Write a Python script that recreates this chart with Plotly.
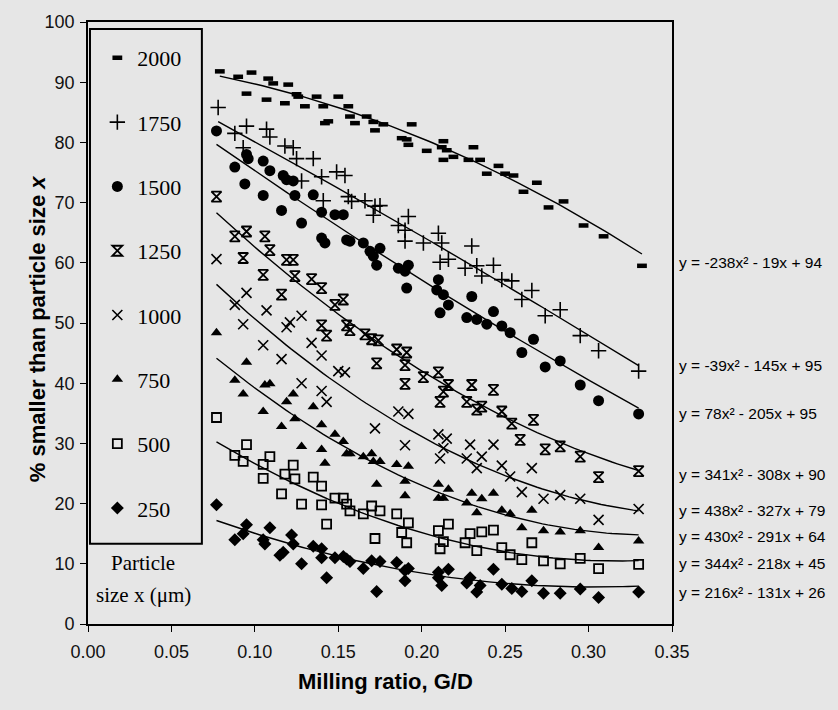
import numpy as np
import plotly.graph_objects as go

# ---------------- data ----------------
sizes = ["2000", "1750", "1500", "1250", "1000", "750", "500", "250"]

x_2000 = [0.079, 0.090, 0.098, 0.095, 0.108, 0.111, 0.107, 0.120, 0.118, 0.125, 0.126, 0.130, 0.137, 0.141,
          0.142, 0.144, 0.150, 0.156, 0.157, 0.160, 0.167, 0.171, 0.172, 0.177, 0.188, 0.191, 0.192, 0.194,
          0.203, 0.212, 0.213, 0.213, 0.215, 0.219, 0.228, 0.231, 0.235, 0.239, 0.246, 0.250, 0.255, 0.261,
          0.269, 0.276, 0.285, 0.297, 0.309, 0.332]
y_2000 = [91.8, 90.9, 91.6, 88.1, 90.6, 89.8, 87.1, 89.6, 86.5, 88.0, 87.6, 86.0, 87.6, 86.0,
          83.2, 83.5, 87.6, 86.0, 84.3, 83.2, 84.3, 83.4, 82.0, 83.0, 80.7, 80.5, 79.6, 83.0,
          78.6, 79.2, 80.2, 77.1, 78.7, 77.6, 77.1, 79.2, 77.1, 74.8, 76.1, 74.8, 74.5, 71.8,
          73.3, 69.2, 70.2, 66.2, 64.4, 59.5]

x_1750 = [0.078, 0.088, 0.093, 0.095, 0.107, 0.109, 0.118, 0.123, 0.125, 0.128, 0.135, 0.140, 0.141, 0.149,
          0.154, 0.156, 0.158, 0.166, 0.171, 0.172, 0.175, 0.186, 0.190, 0.190, 0.192, 0.201, 0.210, 0.211,
          0.212, 0.216, 0.226, 0.230, 0.233, 0.236, 0.243, 0.248, 0.254, 0.260, 0.266, 0.274, 0.283, 0.295,
          0.306, 0.330]
y_1750 = [85.8, 81.5, 79.1, 82.7, 82.2, 80.9, 79.4, 79.1, 77.3, 73.6, 77.3, 74.3, 70.3, 75.1,
          74.5, 71.0, 70.2, 70.3, 67.9, 69.4, 69.5, 66.2, 65.4, 63.6, 67.7, 63.3, 64.9, 60.1,
          63.3, 60.6, 59.1, 62.8, 59.5, 57.8, 59.6, 57.2, 57.0, 53.9, 55.4, 51.2, 52.2, 47.9,
          45.4, 42.0]

x_1500 = [0.077, 0.088, 0.094, 0.095, 0.096, 0.105, 0.105, 0.109, 0.116, 0.117, 0.119, 0.123, 0.124, 0.128,
          0.135, 0.140, 0.140, 0.142, 0.148, 0.153, 0.155, 0.157, 0.165, 0.169, 0.171, 0.173, 0.175, 0.186,
          0.190, 0.191, 0.192, 0.209, 0.210, 0.211, 0.213, 0.216, 0.227, 0.230, 0.233, 0.239, 0.243, 0.248,
          0.253, 0.260, 0.267, 0.274, 0.283, 0.295, 0.306, 0.330]
y_1500 = [81.9, 75.9, 73.1, 78.0, 77.3, 71.2, 76.9, 75.3, 68.7, 74.5, 73.8, 73.6, 71.2, 66.6,
          71.3, 68.4, 64.1, 63.3, 68.0, 68.0, 63.8, 63.6, 63.3, 61.9, 61.1, 59.6, 62.4, 59.1,
          58.6, 55.8, 59.6, 55.5, 57.2, 51.7, 54.7, 53.0, 50.9, 54.4, 50.6, 49.8, 51.9, 49.5,
          48.4, 45.1, 47.3, 42.7, 43.7, 39.7, 37.1, 34.9]

x_1250 = [0.077, 0.088, 0.093, 0.095, 0.105, 0.106, 0.109, 0.116, 0.119, 0.123, 0.124, 0.134, 0.140, 0.140,
          0.143, 0.148, 0.153, 0.155, 0.157, 0.166, 0.170, 0.173, 0.174, 0.185, 0.190, 0.190, 0.191, 0.201,
          0.210, 0.211, 0.213, 0.216, 0.227, 0.230, 0.233, 0.236, 0.243, 0.248, 0.254, 0.259, 0.267, 0.274,
          0.283, 0.295, 0.306, 0.330]
y_1250 = [71.0, 64.4, 60.8, 65.2, 58.0, 64.4, 62.1, 54.7, 60.5, 60.5, 57.8, 57.3, 55.8, 49.6,
          47.9, 53.0, 53.9, 49.6, 48.8, 48.1, 47.3, 43.3, 47.1, 45.6, 43.0, 39.9, 45.1, 41.0,
          41.8, 36.9, 38.6, 39.7, 36.9, 39.7, 35.6, 36.1, 38.9, 35.3, 33.3, 30.6, 33.9, 29.0,
          29.5, 27.8, 24.4, 25.4]

x_1000 = [0.077, 0.088, 0.093, 0.095, 0.105, 0.107, 0.116, 0.119, 0.121, 0.128, 0.128, 0.134, 0.140, 0.140,
          0.143, 0.150, 0.154, 0.172, 0.186, 0.190, 0.192, 0.210, 0.211, 0.213, 0.215, 0.227, 0.229, 0.233,
          0.236, 0.243, 0.248, 0.253, 0.260, 0.266, 0.273, 0.283, 0.295, 0.306, 0.330]
y_1000 = [60.6, 53.0, 49.8, 55.0, 46.3, 52.1, 44.0, 49.3, 50.1, 51.2, 40.0, 46.7, 44.6, 38.7,
          36.9, 42.0, 41.8, 32.5, 35.3, 29.7, 34.9, 31.5, 27.5, 29.2, 30.8, 27.5, 29.8, 25.9,
          27.8, 29.8, 26.3, 24.5, 21.9, 25.9, 20.8, 21.4, 20.8, 17.3, 19.1]

x_750 = [0.077, 0.088, 0.093, 0.095, 0.105, 0.106, 0.109, 0.116, 0.119, 0.123, 0.124, 0.128, 0.135, 0.140,
         0.140, 0.142, 0.148, 0.153, 0.155, 0.157, 0.165, 0.170, 0.171, 0.173, 0.175, 0.185, 0.190, 0.190,
         0.192, 0.210, 0.210, 0.213, 0.216, 0.227, 0.230, 0.233, 0.236, 0.243, 0.248, 0.253, 0.260, 0.266,
         0.273, 0.283, 0.295, 0.306, 0.330]
y_750 = [48.4, 40.5, 38.2, 43.5, 35.3, 39.7, 39.9, 32.8, 36.9, 38.2, 34.1, 29.5, 36.1, 29.0,
         33.1, 26.7, 31.5, 30.3, 28.3, 28.3, 27.8, 28.3, 27.0, 23.2, 27.0, 26.5, 23.7, 21.3,
         26.2, 23.2, 20.9, 20.9, 22.4, 20.1, 21.7, 18.5, 20.8, 21.7, 18.9, 18.3, 16.0, 18.9,
         15.5, 15.3, 15.5, 12.7, 13.8]

x_500 = [0.077, 0.088, 0.093, 0.095, 0.105, 0.105, 0.109, 0.116, 0.118, 0.123, 0.124, 0.128, 0.135, 0.140,
         0.140, 0.143, 0.148, 0.153, 0.155, 0.157, 0.165, 0.170, 0.172, 0.175, 0.185, 0.188, 0.191, 0.192,
         0.210, 0.211, 0.213, 0.216, 0.226, 0.229, 0.233, 0.236, 0.243, 0.248, 0.253, 0.260, 0.266, 0.273,
         0.283, 0.295, 0.306, 0.330]
y_500 = [34.3, 28.0, 27.0, 29.8, 24.2, 26.5, 27.8, 21.6, 24.9, 26.4, 24.1, 19.9, 24.4, 22.9,
         19.8, 16.6, 20.9, 20.9, 19.9, 18.8, 18.3, 19.6, 14.2, 18.8, 18.3, 15.2, 13.5, 16.8,
         15.5, 12.5, 13.7, 16.6, 13.5, 15.0, 12.2, 15.3, 15.6, 12.7, 11.5, 10.7, 13.5, 10.5,
         10.0, 10.9, 9.2, 9.9]

x_250 = [0.077, 0.088, 0.093, 0.095, 0.105, 0.106, 0.109, 0.115, 0.117, 0.122, 0.123, 0.128, 0.135, 0.140,
         0.140, 0.143, 0.148, 0.153, 0.155, 0.157, 0.165, 0.170, 0.173, 0.175, 0.185, 0.190, 0.190, 0.192,
         0.210, 0.210, 0.212, 0.216, 0.227, 0.229, 0.233, 0.235, 0.243, 0.248, 0.254, 0.260, 0.266, 0.273,
         0.283, 0.295, 0.306, 0.330]
y_250 = [19.8, 14.0, 15.0, 16.5, 14.0, 13.3, 16.0, 11.4, 11.9, 14.8, 13.3, 10.0, 12.9, 12.5,
         11.0, 7.7, 11.0, 11.2, 10.8, 10.4, 9.2, 10.5, 5.4, 10.4, 10.2, 8.9, 7.2, 9.2,
         8.6, 7.7, 6.4, 9.1, 6.8, 7.7, 5.3, 6.4, 9.1, 6.6, 5.9, 5.4, 7.2, 5.1,
         5.1, 5.8, 4.4, 5.3]

# quadratic trend-line coefficients (y = a x^2 + b x + c), as printed on the chart
fit_a = [-238, -39, 78, 341, 438, 430, 344, 216]
fit_b = [-19, -145, -205, -308, -327, -291, -218, -131]
fit_c = [94, 95, 95, 90, 79, 64, 45, 26]
eq_labels = ["y = -238x\u00b2 - 19x + 94", "y = -39x\u00b2 - 145x + 95", "y = 78x\u00b2 - 205x + 95",
             "y = 341x\u00b2 - 308x + 90", "y = 438x\u00b2 - 327x + 79", "y = 430x\u00b2 - 291x + 64",
             "y = 344x\u00b2 - 218x + 45", "y = 216x\u00b2 - 131x + 26"]
x_tick_vals = [0.00, 0.05, 0.10, 0.15, 0.20, 0.25, 0.30, 0.35]
y_tick_vals = [0, 10, 20, 30, 40, 50, 60, 70, 80, 90, 100]

# ---------------- styling ----------------
xs = [x_2000, x_1750, x_1500, x_1250, x_1000, x_750, x_500, x_250]
ys = [y_2000, y_1750, y_1500, y_1250, y_1000, y_750, y_500, y_250]
eq_label_y = [60.1, 43.0, 34.9, 24.9, 18.8, 14.5, 10.0, 5.3]
symbols = ["line-ew", "cross-thin", "circle", "hourglass-open", "x-thin", "triangle-up", "square-open", "diamond"]
msize = [7, 11, 11, 10, 10, 10, 9, 10]
mline = [4.5, 1.6, 0, 1.8, 1.6, 0, 1.8, 0]

BG = "#e6e6e6"
SANS = "Liberation Sans, Arial, sans-serif"
SERIF = "Liberation Serif, Times New Roman, serif"

fig = go.Figure()
for i, name in enumerate(sizes):
    fig.add_trace(go.Scatter(
        x=xs[i], y=ys[i], mode="markers", name=name, legendgroup=name,
        marker=dict(symbol=symbols[i], size=msize[i], color="black",
                    line=dict(color="black", width=mline[i])),
    ))
for i, name in enumerate(sizes):
    xl = np.linspace(min(xs[i]), max(xs[i]), 80)
    yl = fit_a[i] * xl ** 2 + fit_b[i] * xl + fit_c[i]
    fig.add_trace(go.Scatter(x=xl, y=yl, mode="lines", showlegend=False, legendgroup=name,
                             line=dict(color="black", width=1.4), hoverinfo="skip"))

axis_common = dict(showgrid=False, zeroline=False, showline=True, linecolor="black", linewidth=1.6,
                   mirror=True, ticks="outside", ticklen=6, tickwidth=1.2, tickcolor="black",
                   tickfont=dict(family=SANS, size=18, color="#111"))

fig.update_layout(
    width=838, height=710, autosize=False,
    margin=dict(l=88, r=166, t=17, b=86),
    paper_bgcolor=BG, plot_bgcolor=BG,
    xaxis=dict(range=[0, 0.35], tickvals=x_tick_vals, tickformat=".2f", ticklabelstandoff=5,
               **axis_common),
    yaxis=dict(range=[0, 100], tickvals=y_tick_vals, ticklabelstandoff=2, **axis_common),
    legend=dict(x=0.016, y=0.975, xanchor="left", yanchor="top", bgcolor="rgba(0,0,0,0)",
                borderwidth=0, font=dict(family=SERIF, size=22, color="black"),
                tracegroupgap=32.7, itemsizing="trace"),
    showlegend=True,
)

# legend frame
fig.add_shape(type="rect", xref="paper", yref="paper", x0=0.0034, x1=0.195, y0=0.1334, y1=0.9885,
              line=dict(color="black", width=2), fillcolor="rgba(0,0,0,0)")

ann = [
    dict(text="<b>% smaller than particle size <i>x</i></b>", x=-0.087, y=0.49, textangle=-90,
         font=dict(family=SANS, size=22, color="black")),
    dict(text="<b>Milling ratio, G/D</b>", x=0.5086, y=-0.0956,
         font=dict(family=SANS, size=22, color="black")),
    dict(text="Particle", x=0.094, y=0.102, font=dict(family=SERIF, size=21, color="black")),
    dict(text="size x (\u03bcm)", x=0.095, y=0.048, font=dict(family=SERIF, size=21, color="black")),
]
for a in ann:
    fig.add_annotation(xref="paper", yref="paper", xanchor="center", yanchor="middle",
                       showarrow=False, **a)
for i, t in enumerate(eq_labels):
    fig.add_annotation(xref="paper", yref="y", x=1.008, y=eq_label_y[i], xanchor="left", yanchor="middle",
                       text=t, showarrow=False, font=dict(family=SANS, size=15.5, color="black"))

fig.write_html("out.html", config={"displayModeBar": False},
               post_script="document.body.style.margin='0';")
